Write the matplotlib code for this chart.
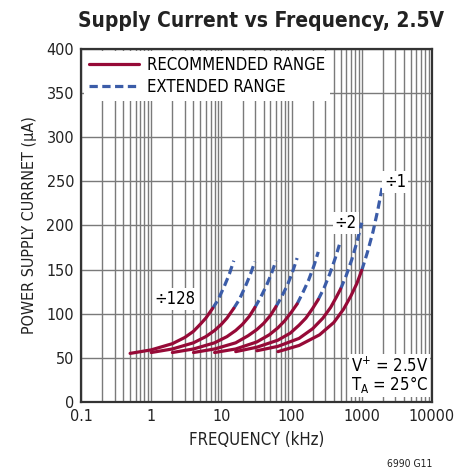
import matplotlib
matplotlib.use("Agg")
import matplotlib.pyplot as plt
from matplotlib.ticker import LogLocator, FixedLocator, NullFormatter

plt.rcParams['font.family'] = ['DejaVu Sans']
plt.rcParams['font.stretch'] = 'condensed'

# ------------ Data ------------
DIVIDERS = ["÷1", "÷2", "÷4", "÷8", "÷16", "÷32", "÷64", "÷128"]

# recommended range (solid)
REC_FREQ = [
    [64, 128, 250, 400, 550, 700, 850, 1000],
    [32, 64, 128, 200, 280, 360, 430, 500],
    [16, 32, 64, 96, 128, 160, 200, 240],
    [8, 16, 32, 48, 64, 80, 100, 120],
    [4, 8, 16, 24, 32, 40, 50, 60],
    [2, 4, 8, 12, 16, 20, 25, 30],
    [1, 2, 4, 6, 8, 10, 12, 15],
    [0.5, 1, 2, 3, 4, 5, 6, 7.5],
]
REC_CURR = [
    [57, 64, 76, 90, 105, 120, 134, 149],
    [58, 63, 72, 83, 95, 107, 118, 128],
    [57, 62, 70, 78, 87, 95, 106, 116],
    [56, 60, 68, 76, 84, 92, 102, 111],
    [56, 60, 67, 75, 82, 89, 98, 108],
    [56, 60, 67, 74, 81, 88, 97, 107],
    [56, 60, 67, 74, 81, 88, 95, 106],
    [55, 59, 66, 73, 80, 88, 95, 106],
]

# extended range (dashed)
EXT_FREQ = [
    [1000, 1200, 1450, 1700, 2000],
    [500, 600, 720, 860, 1000],
    [240, 290, 350, 420, 480],
    [120, 145, 175, 210, 240],
    [60, 72, 88, 104, 120],
    [30, 36, 44, 52, 60],
    [15, 18, 22, 26, 30],
    [7.5, 9, 11, 13, 15],
]
EXT_CURR = [
    [149, 169, 193, 218, 247],
    [128, 143, 161, 182, 203],
    [116, 129, 145, 163, 178],
    [111, 124, 138, 155, 170],
    [108, 119, 133, 148, 163],
    [107, 118, 132, 146, 160],
    [106, 116, 131, 145, 159],
    [106, 116, 131, 145, 160],
]

X_TICKS = [0.1, 1, 10, 100, 1000, 10000]
X_TICK_LABELS = ["0.1", "1", "10", "100", "1000", "10000"]
Y_TICKS = [0, 50, 100, 150, 200, 250, 300, 350, 400]

RED = "#960a37"
BLUE = "#3b5ca8"
INK = "#222222"

# --------- Plot ----------
fig = plt.figure(figsize=(4.58, 4.74), dpi=100)
ax = fig.add_axes([0.177, 0.152, 0.766, 0.745])

for i in range(len(DIVIDERS)):
    ax.plot(EXT_FREQ[i], EXT_CURR[i], color=BLUE, lw=2.3, dashes=(2.6, 1.4),
            dash_capstyle="butt", zorder=3,
            label="EXTENDED RANGE" if i == 0 else None)
    ax.plot(REC_FREQ[i], REC_CURR[i], color=RED, lw=2.3,
            solid_capstyle="round", zorder=4,
            label="RECOMMENDED RANGE" if i == 0 else None)

ax.set_xscale("log")
ax.set_xlim(0.1, 10000)
ax.set_ylim(0, 400)
ax.xaxis.set_major_locator(FixedLocator(X_TICKS))
ax.set_xticklabels(X_TICK_LABELS)
ax.xaxis.set_minor_locator(LogLocator(base=10, subs=range(2, 10), numticks=20))
ax.xaxis.set_minor_formatter(NullFormatter())
ax.set_yticks(Y_TICKS)

ax.grid(True, which="major", color="#7a7a7a", lw=1.0, zorder=0)
ax.grid(True, which="minor", axis="x", color="#7a7a7a", lw=1.0, zorder=0)
ax.tick_params(which="both", length=0, labelsize=11.5, pad=5, colors=INK)
for s in ax.spines.values():
    s.set_linewidth(1.6)
    s.set_color("#333333")

ax.set_xlabel("FREQUENCY (kHz)", fontsize=12, color=INK, labelpad=5)
ax.set_ylabel("POWER SUPPLY CURRNET (μA)", fontsize=11.5, color=INK, labelpad=7)
fig.text(0.57, 0.955, "Supply Current vs Frequency, 2.5V", ha="center", va="center",
         fontsize=15, fontweight="bold", color=INK)
fig.text(0.945, 0.022, "6990 G11", ha="right", va="center", fontsize=7.5, color=INK)

# legend (recommended first)
h, l = ax.get_legend_handles_labels()
leg = ax.legend([h[1], h[0]], [l[1], l[0]], loc="upper left", frameon=True,
                fontsize=12, handlelength=3.0, handletextpad=0.5,
                borderaxespad=0.15, borderpad=0.3, labelspacing=0.2, fancybox=False)
leg.get_frame().set_edgecolor("none")
leg.get_frame().set_facecolor("white")
leg.get_frame().set_alpha(1)

box = dict(facecolor="white", edgecolor="none", pad=1.5)
ax.text(2.2, 117, "÷128", ha="center", va="center", fontsize=12, bbox=box, zorder=5)
ax.text(590, 203, "÷2", ha="center", va="center", fontsize=12, bbox=box, zorder=5)
ax.text(3000, 249, "÷1", ha="center", va="center", fontsize=12, bbox=box, zorder=5)
ax.text(700, 41, "V$^{+}$ = 2.5V", ha="left", va="center", fontsize=12, bbox=box, zorder=5)
ax.text(700, 20, "T$_{\\mathrm{A}}$ = 25°C", ha="left", va="center", fontsize=12, bbox=box, zorder=5)

fig.savefig("out.png", dpi=100)
